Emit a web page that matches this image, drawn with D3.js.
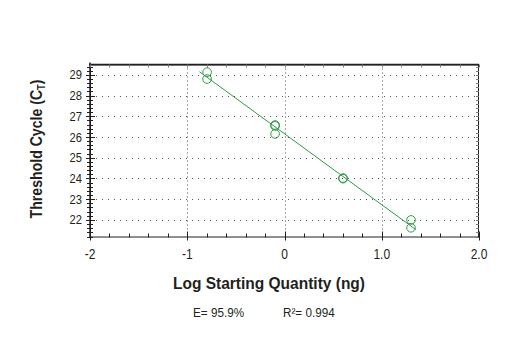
<!DOCTYPE html>
<html>
<head>
<meta charset="utf-8">
<script src="https://cdn.jsdelivr.net/npm/d3@7"></script>
<style>
  html, body { margin: 0; padding: 0; background: #fff; }
  svg { display: block; }
  text { font-family: "Liberation Sans", Arial, Helvetica, sans-serif; fill: #231f20; }
</style>
</head>
<body>
<svg id="chart" width="520" height="350"></svg>
<script>
// Standard curve: log starting quantity vs. threshold cycle
const logQuantity = [-0.796, -0.796, -0.097, -0.097, -0.097, 0.602, 0.602, 1.301, 1.301];
const thresholdCycle = [29.13, 28.80, 26.58, 26.54, 26.15, 24.02, 23.99, 22.00, 21.62];
const xTicks = [-2, -1, 0, 1, 2];
const xTickLabels = ["-2", "-1", "0", "1.0", "2.0"];
const yTicks = [22, 23, 24, 25, 26, 27, 28, 29];
const efficiency = 0.959;
const rSquared = 0.994;
const fitRange = [-0.875, 1.35];

const svg = d3.select("#chart");
const plotLeft = 90, plotRight = 479, plotTop = 64.5, plotBottom = 236.5;
const green = "#2f9a4a";
const narrow = 0.86; // horizontal squeeze to get a condensed face

const x = d3.scaleLinear().domain([-2, 2]).range([plotLeft, plotRight]);
const y = d3.scaleLinear().domain([21.2, 29.5]).range([plotBottom, plotTop]);
const px = v => Math.round(v) + 0.5;

// Dotted grid
const grid = svg.append("g").attr("stroke", "#555").attr("stroke-width", 1);
grid.selectAll("line.h").data(yTicks).join("line")
  .attr("x1", plotLeft).attr("x2", plotRight)
  .attr("y1", d => px(y(d))).attr("y2", d => px(y(d)))
  .attr("stroke-dasharray", "1,5");
grid.selectAll("line.v").data([-1, 0, 1]).join("line")
  .attr("y1", plotTop).attr("y2", plotBottom)
  .attr("x1", d => px(x(d))).attr("x2", d => px(x(d)))
  .attr("stroke-dasharray", "1,3");

// Minor tick positions
const yMinor = d3.range(21.2, 29.5, 0.2).map(v => +v.toFixed(1));
const xMinor = d3.range(-2, 2.01, 0.2).map(v => +v.toFixed(1));

const axes = svg.append("g").attr("stroke", "#231f20").attr("stroke-width", 1);
// frame
axes.append("rect").attr("x", plotLeft + 0.5).attr("y", plotTop + 0.5)
  .attr("width", plotRight - plotLeft - 1).attr("height", plotBottom - plotTop)
  .attr("fill", "none");
axes.append("line").attr("x1", plotLeft - 1).attr("x2", plotRight).attr("y1", plotTop).attr("y2", plotTop).attr("stroke-width", 1.5);
axes.append("line").attr("x1", plotLeft).attr("x2", plotLeft).attr("y1", plotTop - 2).attr("y2", plotBottom + 1).attr("stroke-width", 1.5);

// left axis ticks (crossing the spine)
const isMajorY = d => yTicks.includes(d);
axes.selectAll("line.ly").data(yMinor).join("line")
  .attr("x1", d => isMajorY(d) ? plotLeft - 4 : plotLeft - 3)
  .attr("x2", d => isMajorY(d) ? plotLeft + 5 : plotLeft + 3)
  .attr("y1", d => px(y(d))).attr("y2", d => px(y(d)));
// right border ticks
axes.selectAll("line.ry").data(yMinor).join("line")
  .attr("x1", plotRight - 3).attr("x2", plotRight)
  .attr("y1", d => px(y(d))).attr("y2", d => px(y(d)))
  .attr("stroke", "#777");
// bottom axis ticks
axes.selectAll("line.bx").data(xMinor).join("line")
  .attr("x1", d => px(x(d))).attr("x2", d => px(x(d)))
  .attr("y1", d => xTicks.includes(d) ? plotBottom - 5 : plotBottom - 3)
  .attr("y2", d => xTicks.includes(d) ? plotBottom + 4 : plotBottom + 1);
// top border ticks
axes.selectAll("line.tx").data(xMinor).join("line")
  .attr("x1", d => px(x(d))).attr("x2", d => px(x(d)))
  .attr("y1", plotTop).attr("y2", plotTop + 3)
  .attr("stroke", "#777");

// tick labels (condensed via horizontal scale)
svg.append("g").selectAll("text").data(yTicks).join("text")
  .attr("transform", d => `translate(${plotLeft - 8},${y(d) + 4.5}) scale(${narrow},1)`)
  .attr("text-anchor", "end").attr("font-size", 13)
  .text(d => d);
svg.append("g").selectAll("text").data(xTicks).join("text")
  .attr("transform", d => `translate(${x(d)},${plotBottom + 22.5}) scale(${narrow},1)`)
  .attr("text-anchor", "middle").attr("font-size", 14)
  .text((d, i) => xTickLabels[i]);

// axis titles
svg.append("text")
  .attr("transform", "translate(269,289)")
  .attr("text-anchor", "middle").attr("font-size", 17).attr("font-weight", "bold")
  .attr("textLength", 192).attr("lengthAdjust", "spacingAndGlyphs")
  .text("Log Starting Quantity (ng)");
const yTitle = svg.append("text")
  .attr("transform", `translate(42,149) rotate(-90) scale(0.83,1)`)
  .attr("text-anchor", "middle").attr("font-size", 17).attr("font-weight", "bold");
yTitle.append("tspan").text("Threshold Cycle (C");
yTitle.append("tspan").attr("font-size", 11).attr("dy", 3).text("T");
yTitle.append("tspan").attr("dy", -3).text(")");

// regression line with slope from amplification efficiency
const slope = -1 / Math.log10(1 + efficiency);
const mx = d3.mean(logQuantity), my = d3.mean(thresholdCycle);
const intercept = my - slope * mx;
svg.append("line")
  .attr("x1", x(fitRange[0])).attr("y1", y(intercept + slope * fitRange[0]))
  .attr("x2", x(fitRange[1])).attr("y2", y(intercept + slope * fitRange[1]))
  .attr("stroke", green).attr("stroke-width", 1);

// replicate points
svg.append("g").selectAll("circle").data(logQuantity).join("circle")
  .attr("cx", d => x(d)).attr("cy", (d, i) => y(thresholdCycle[i]))
  .attr("r", 4.3).attr("fill", "none").attr("stroke", green).attr("stroke-width", 1);

// fit statistics
svg.append("text").attr("transform", `translate(193,317) scale(0.9,1)`).attr("font-size", 13)
  .text("E= " + (efficiency * 100).toFixed(1) + "%");
svg.append("text").attr("transform", `translate(283,317) scale(0.9,1)`).attr("font-size", 13)
  .text("R²= " + rSquared.toFixed(3));
</script>
</body>
</html>
